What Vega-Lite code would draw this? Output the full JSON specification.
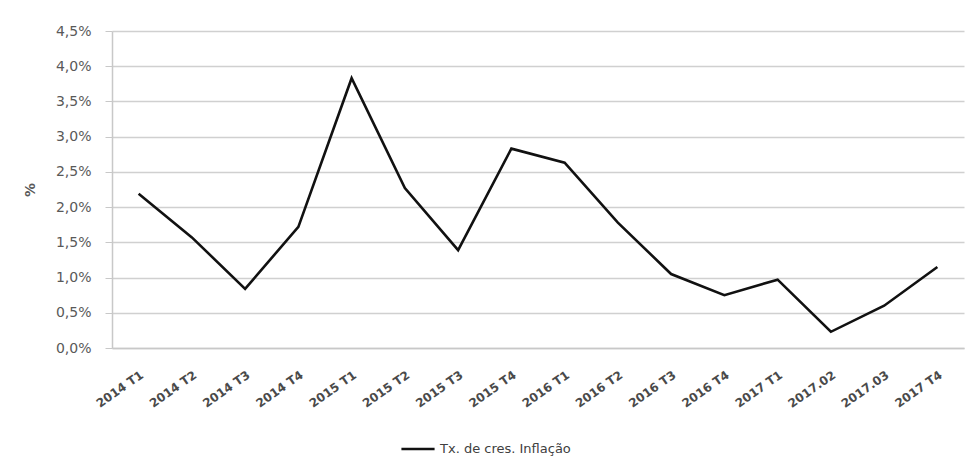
{
  "$schema": "https://vega.github.io/schema/vega-lite/v6.json",
  "autosize": "none",
  "width": 852,
  "height": 317,
  "padding": {"left": 112, "top": 31, "right": 8, "bottom": 109},
  "background": "white",
  "config": {
    "font": "DejaVu Sans",
    "view": {"stroke": null}
  },
  "data": {
    "values": [
      {"trimestre": "2014 T1", "taxa": 2.19, "serie": "Tx. de cres. Inflação"},
      {"trimestre": "2014 T2", "taxa": 1.57, "serie": "Tx. de cres. Inflação"},
      {"trimestre": "2014 T3", "taxa": 0.84, "serie": "Tx. de cres. Inflação"},
      {"trimestre": "2014 T4", "taxa": 1.72, "serie": "Tx. de cres. Inflação"},
      {"trimestre": "2015 T1", "taxa": 3.83, "serie": "Tx. de cres. Inflação"},
      {"trimestre": "2015 T2", "taxa": 2.27, "serie": "Tx. de cres. Inflação"},
      {"trimestre": "2015 T3", "taxa": 1.39, "serie": "Tx. de cres. Inflação"},
      {"trimestre": "2015 T4", "taxa": 2.83, "serie": "Tx. de cres. Inflação"},
      {"trimestre": "2016 T1", "taxa": 2.63, "serie": "Tx. de cres. Inflação"},
      {"trimestre": "2016 T2", "taxa": 1.78, "serie": "Tx. de cres. Inflação"},
      {"trimestre": "2016 T3", "taxa": 1.05, "serie": "Tx. de cres. Inflação"},
      {"trimestre": "2016 T4", "taxa": 0.75, "serie": "Tx. de cres. Inflação"},
      {"trimestre": "2017 T1", "taxa": 0.97, "serie": "Tx. de cres. Inflação"},
      {"trimestre": "2017.02", "taxa": 0.23, "serie": "Tx. de cres. Inflação"},
      {"trimestre": "2017.03", "taxa": 0.6, "serie": "Tx. de cres. Inflação"},
      {"trimestre": "2017 T4", "taxa": 1.15, "serie": "Tx. de cres. Inflação"}
    ]
  },
  "mark": {"type": "line", "strokeWidth": 2.6},
  "encoding": {
    "x": {
      "field": "trimestre",
      "type": "ordinal",
      "sort": null,
      "scale": {"paddingInner": 0, "paddingOuter": 0},
      "axis": {
        "title": null,
        "labelAngle": -35,
        "labelAlign": "right",
        "labelBaseline": "top",
        "labelFontSize": 12,
        "labelFontWeight": "bold",
        "labelColor": "#4a4a4a",
        "labelPadding": 21,
        "labelOffset": 0,
        "ticks": false,
        "domainColor": "#c8c8c8",
        "domainWidth": 1.5,
        "grid": false
      }
    },
    "y": {
      "field": "taxa",
      "type": "quantitative",
      "scale": {"domain": [0, 4.5], "nice": false},
      "axis": {
        "title": "%",
        "titleColor": "#595959",
        "titleFontSize": 14,
        "titleFontWeight": "bold",
        "titlePadding": 18,
        "values": [0, 0.5, 1, 1.5, 2, 2.5, 3, 3.5, 4, 4.5],
        "labelExpr": "replace(format(datum.value, '.1f'), '.', ',') + '%'",
        "labelFontSize": 14,
        "labelColor": "#595959",
        "labelPadding": 14,
        "tickSize": 7,
        "tickColor": "#c8c8c8",
        "domainColor": "#c8c8c8",
        "domainWidth": 1.5,
        "gridColor": "#d0d0d0",
        "gridWidth": 1.5
      }
    },
    "color": {
      "field": "serie",
      "type": "nominal",
      "scale": {"range": ["#111111"]},
      "legend": {
        "title": null,
        "orient": "none",
        "legendX": 288,
        "legendY": 400,
        "symbolType": "stroke",
        "symbolSize": 1100,
        "symbolStrokeWidth": 2.6,
        "labelFontSize": 13,
        "labelColor": "#404040",
        "labelOffset": 4
      }
    }
  }
}
